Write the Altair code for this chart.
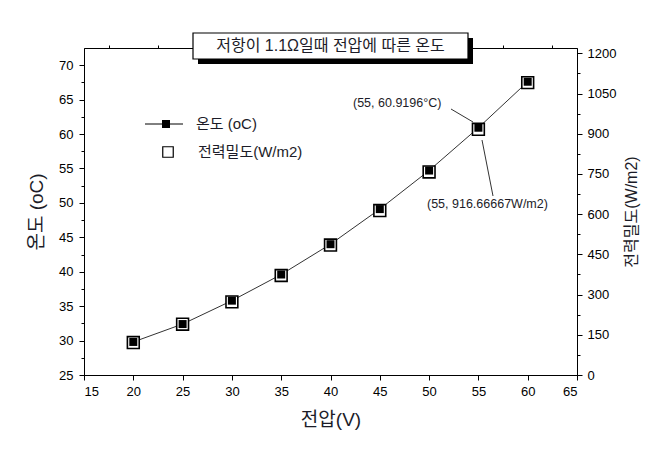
import altair as alt
import pandas as pd

# ---- data ----
voltage = [20, 25, 30, 35, 40, 45, 50, 55, 60]
temperature = [29.8, 32.4, 35.8, 39.6, 44.0, 49.1, 54.7, 60.9196, 67.6]
power_density = [121.2, 189.4, 272.7, 371.2, 484.8, 613.6, 757.6, 916.66667, 1090.9]

x_major = [15, 20, 25, 30, 35, 40, 45, 50, 55, 60, 65]
x_minor = [17.5, 22.5, 27.5, 32.5, 37.5, 42.5, 47.5, 52.5, 57.5, 62.5]
t_major = [25, 30, 35, 40, 45, 50, 55, 60, 65, 70]
t_minor = [27.5, 32.5, 37.5, 42.5, 47.5, 52.5, 57.5, 62.5, 67.5]
p_major = [0, 150, 300, 450, 600, 750, 900, 1050, 1200]
p_minor = [75, 225, 375, 525, 675, 825, 975, 1125]

title_text = "저항이 1.1Ω일때 전압에 따른 온도"
ann_temp = "(55, 60.9196°C)"
ann_power = "(55, 916.66667W/m2)"
legend_temp = "온도 (oC)"
legend_power = "전력밀도(W/m2)"

df = pd.DataFrame({"V": voltage, "T": temperature, "P": power_density})
one = pd.DataFrame({"k": [0]})

FONT = "Liberation Sans, Arial, Noto Sans CJK KR"
INK = "#1c1c28"

xdom = alt.Scale(domain=[15, 65], nice=False, zero=False)
tdom = alt.Scale(domain=[25, 72.5], nice=False, zero=False)
pdom = alt.Scale(domain=[0, 1220], nice=False, zero=False)

x_axis = alt.Axis(values=x_major, title="전압(V)", tickSize=5, labelPadding=5,
                  titlePadding=12, titleFontSize=19, titleFontWeight="normal",
                  labelFontSize=13, grid=False, domainColor="black", tickColor="black",
                  labelColor="black", titleColor=INK, labelFont=FONT, titleFont=FONT,
                  format="d")
x_axis_minor = alt.Axis(values=x_minor, title=None, labels=False, tickSize=3,
                        domain=False, grid=False, tickColor="black")

t_axis = alt.Axis(values=t_major, title="온도 (oC)", orient="left", tickSize=5,
                  labelPadding=6, titlePadding=12, titleFontSize=19,
                  titleFontWeight="normal", labelFontSize=13, grid=False,
                  domainColor="black", tickColor="black", labelColor="black",
                  titleColor=INK, labelFont=FONT, titleFont=FONT, format="d")
t_axis_minor = alt.Axis(values=t_minor, title=None, labels=False, tickSize=3,
                        domain=False, grid=False, tickColor="black", orient="left")

p_axis = alt.Axis(values=p_major, title="전력밀도(W/m2)", orient="right", tickSize=5,
                  labelPadding=5, titlePadding=24, titleFontSize=16, titleAngle=270,
                  titleFontWeight="normal", labelFontSize=13, grid=False,
                  domainColor="black", tickColor="black", labelColor="black",
                  titleColor=INK, labelFont=FONT, titleFont=FONT, format="d")
p_axis_minor = alt.Axis(values=p_minor, title=None, labels=False, tickSize=3,
                        domain=False, grid=False, tickColor="black", orient="right")

base = alt.Chart(df)

temp_line = base.mark_line(color="#333333", strokeWidth=1).encode(
    x=alt.X("V:Q", scale=xdom, axis=x_axis),
    y=alt.Y("T:Q", scale=tdom, axis=t_axis),
)
x_minor_layer = base.mark_point(opacity=0).encode(
    x=alt.X("V:Q", scale=xdom, axis=x_axis_minor),
    y=alt.Y("T:Q", scale=tdom, axis=t_axis_minor),
)
power_pts = base.mark_square(size=140, color="black", fill="white", filled=False,
                             stroke="black", strokeWidth=1.6, fillOpacity=1).encode(
    x=alt.X("V:Q", scale=xdom, axis=None),
    y=alt.Y("P:Q", scale=pdom, axis=p_axis),
)
p_minor_layer = base.mark_point(opacity=0).encode(
    x=alt.X("V:Q", scale=xdom, axis=None),
    y=alt.Y("P:Q", scale=pdom, axis=p_axis_minor),
)
temp_pts = base.mark_square(size=64, color="black", opacity=1).encode(
    x=alt.X("V:Q", scale=xdom, axis=None),
    y=alt.Y("T:Q", scale=tdom, axis=None),
)

ob = alt.Chart(one)

# legend
leg_line = ob.mark_rule(color="black", strokeWidth=1).encode(
    x=alt.value(61), x2=alt.value(99), y=alt.value(76))
leg_sq = ob.mark_square(size=64, color="black", opacity=1).encode(
    x=alt.value(82), y=alt.value(76))
leg_t1 = ob.mark_text(align="left", baseline="middle", fontSize=15, font=FONT,
                      color=INK).encode(x=alt.value(112), y=alt.value(76),
                                        text=alt.value(legend_temp))
leg_open = ob.mark_square(size=110, fill="white", filled=False, stroke="black",
                          strokeWidth=1.2, fillOpacity=1).encode(
    x=alt.value(84), y=alt.value(104))
leg_t2 = ob.mark_text(align="left", baseline="middle", fontSize=15, font=FONT,
                      color=INK).encode(x=alt.value(114), y=alt.value(104),
                                        text=alt.value(legend_power))

# annotations
a1_text = ob.mark_text(align="left", baseline="middle", fontSize=12.5, font=FONT,
                       color=INK).encode(x=alt.value(269), y=alt.value(55),
                                         text=alt.value(ann_temp))
a1_line = ob.mark_rule(color="#333333", strokeWidth=1).encode(
    x=alt.value(367), x2=alt.value(389), y=alt.value(61), y2=alt.value(74))
a2_text = ob.mark_text(align="left", baseline="middle", fontSize=12.5, font=FONT,
                       color=INK).encode(x=alt.value(343), y=alt.value(156),
                                         text=alt.value(ann_power))
a2_line = ob.mark_rule(color="#333333", strokeWidth=1).encode(
    x=alt.value(398), x2=alt.value(409), y=alt.value(92), y2=alt.value(148))

# title box
shadow = ob.mark_rect(color="black").encode(
    x=alt.value(114), x2=alt.value(389), y=alt.value(-10), y2=alt.value(16))
box = ob.mark_rect(fill="white", stroke="black", strokeWidth=1.2).encode(
    x=alt.value(109), x2=alt.value(384), y=alt.value(-15), y2=alt.value(11))
title = ob.mark_text(align="center", baseline="middle", fontSize=16, font=FONT,
                     color=INK).encode(x=alt.value(246.5), y=alt.value(-2),
                                       text=alt.value(title_text))

chart = alt.layer(
    temp_line, x_minor_layer, power_pts, p_minor_layer, temp_pts,
    leg_line, leg_sq, leg_t1, leg_open, leg_t2,
    a1_line, a1_text, a2_line, a2_text,
    shadow, box, title,
).resolve_scale(y="independent").resolve_axis(x="independent").properties(
    width=493, height=327,
    padding={"left": 84, "top": 48, "right": 73, "bottom": 79},
    autosize=alt.AutoSizeParams(type="none"),
    background="white",
).configure_view(stroke="black", strokeWidth=1).configure_axis(
    labelFont=FONT, titleFont=FONT)

chart.save("out.html", embed_options={"renderer": "svg", "actions": False})
